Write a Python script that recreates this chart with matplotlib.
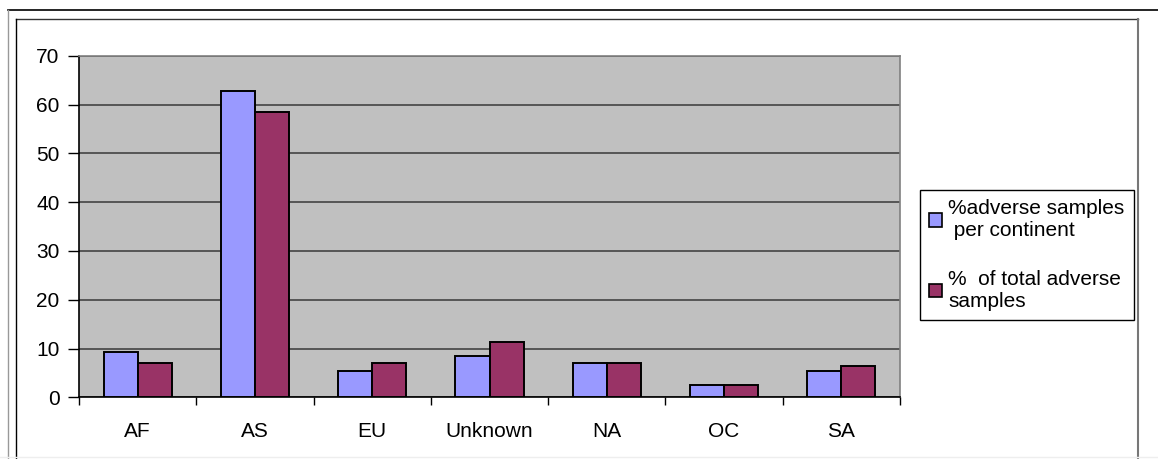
import matplotlib
matplotlib.use("Agg")
import matplotlib.pyplot as plt
from matplotlib.lines import Line2D
from matplotlib.patches import Patch
import numpy as np

plt.rcParams['font.family'] = ['Liberation Sans', 'DejaVu Sans']

continents = ["AF", "AS", "EU", "Unknown", "NA", "OC", "SA"]
pct_per_continent = [9.2, 62.7, 5.3, 8.5, 7.0, 2.5, 5.3]
pct_of_total = [7.1, 58.4, 7.0, 11.3, 7.0, 2.5, 6.4]
series_labels = ["%adverse samples\n per continent", "%  of total adverse\nsamples"]
yticks = [0, 10, 20, 30, 40, 50, 60, 70]

blue = "#9999FF"
plum = "#993366"

W, H = 1158, 459
fig = plt.figure(figsize=(W / 100, H / 100), dpi=100)

# frame lines around the chart (like the spreadsheet chart object)
def fline(x0, y0, x1, y1, color, lw=1.0):
    fig.add_artist(Line2D([x0 / W, x1 / W], [1 - y0 / H, 1 - y1 / H],
                          transform=fig.transFigure, color=color, lw=lw))

fline(8, 10, W, 10, "black", 1.2)
fline(8, 10, 8, H, "#999999", 1.0)
fline(16, 19, 1138, 19, "#333333", 1.0)
fline(16, 19, 16, H, "black", 1.0)
fline(1138, 19, 1138, H, "#777777", 1.5)
fline(0, 457, W, 457, "#eeeeee", 1.0)

ax = fig.add_axes([79 / W, 1 - 397.3 / H, (900 - 79) / W, (397.3 - 55.7) / H])
ax.set_facecolor("#C0C0C0")

x = np.arange(len(continents))
bw = 0.29
ax.bar(x - bw / 2, pct_per_continent, bw, color=blue, edgecolor="black",
       linewidth=1.4, label=series_labels[0], zorder=3)
ax.bar(x + bw / 2, pct_of_total, bw, color=plum, edgecolor="black",
       linewidth=1.4, label=series_labels[1], zorder=3)

ax.set_xlim(-0.5, len(continents) - 0.5)
ax.set_ylim(0, 70)
ax.set_yticks(yticks)
ax.yaxis.grid(True, color="#4d4d4d", linewidth=1.3, zorder=1)
ax.set_axisbelow(True)

# major ticks between categories, labels on minor ticks at centres
ax.set_xticks(np.arange(len(continents) + 1) - 0.5)
ax.set_xticklabels([])
ax.set_xticks(x, minor=True)
ax.set_xticklabels(continents, minor=True)
ax.tick_params(axis="x", which="major", direction="out", length=6, width=1)
ax.tick_params(axis="x", which="minor", length=0, pad=18, labelsize=15)
ax.tick_params(axis="y", direction="out", length=8, width=1, pad=6, labelsize=15)

ax.spines["left"].set_color("black")
ax.spines["bottom"].set_color("black")
ax.spines["top"].set_color("#808080")
ax.spines["right"].set_color("#808080")
for s in ax.spines.values():
    s.set_linewidth(1.2)

handles = [Patch(facecolor=blue, edgecolor="black", linewidth=1.2),
           Patch(facecolor=plum, edgecolor="black", linewidth=1.2)]
leg = fig.legend(handles, series_labels, loc="upper left",
                 bbox_to_anchor=(920 / W, 1 - 190 / H),
                 fontsize=15, frameon=True, fancybox=False, framealpha=1,
                 edgecolor="black", handlelength=0.6, handleheight=0.6,
                 handletextpad=0.3, labelspacing=1.4, borderpad=0.45,
                 borderaxespad=0)
leg.get_frame().set_linewidth(1.0)

fig.savefig("out.png", dpi=100)
